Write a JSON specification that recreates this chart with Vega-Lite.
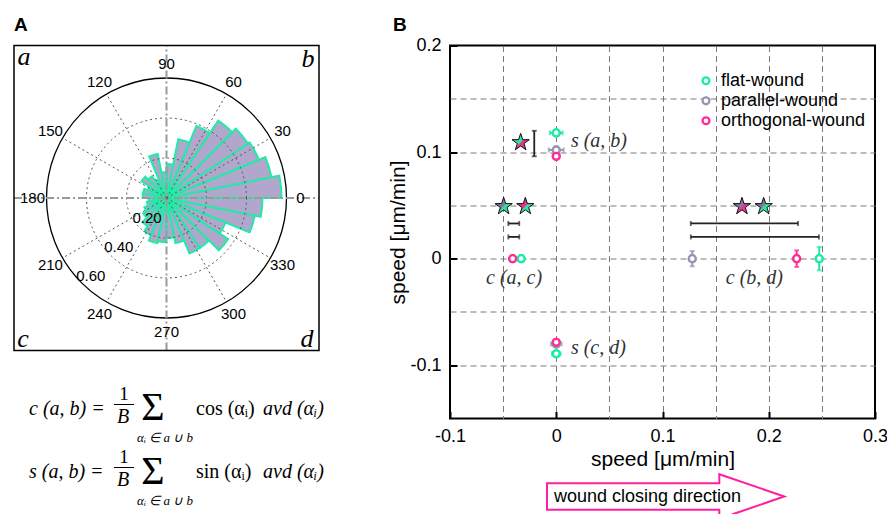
{
  "$schema": "https://vega.github.io/schema/vega-lite/v6.json",
  "background": "white",
  "padding": {"left": 13, "top": 14.5, "right": 0, "bottom": 0},
  "bounds": "flush",
  "spacing": 131,
  "config": {"view": {"stroke": null}, "font": "Liberation Sans"},
  "datasets": {
    "bins": [
      {"a0": 0, "a1": 11.25, "v": 0.575},
      {"a0": 11.25, "a1": 22.5, "v": 0.535},
      {"a0": 22.5, "a1": 33.75, "v": 0.5},
      {"a0": 33.75, "a1": 45, "v": 0.49},
      {"a0": 45, "a1": 56.25, "v": 0.465},
      {"a0": 56.25, "a1": 67.5, "v": 0.39},
      {"a0": 67.5, "a1": 78.75, "v": 0.3},
      {"a0": 78.75, "a1": 90, "v": 0.17},
      {"a0": 90, "a1": 101.25, "v": 0.13},
      {"a0": 101.25, "a1": 112.5, "v": 0.225},
      {"a0": 112.5, "a1": 123.75, "v": 0.1},
      {"a0": 123.75, "a1": 135, "v": 0.13},
      {"a0": 135, "a1": 146.25, "v": 0.15},
      {"a0": 146.25, "a1": 157.5, "v": 0.1},
      {"a0": 157.5, "a1": 168.75, "v": 0.12},
      {"a0": 168.75, "a1": 180, "v": 0.12},
      {"a0": 180, "a1": 191.25, "v": 0.09},
      {"a0": 191.25, "a1": 202.5, "v": 0.1},
      {"a0": 202.5, "a1": 213.75, "v": 0.12},
      {"a0": 213.75, "a1": 225, "v": 0.14},
      {"a0": 225, "a1": 236.25, "v": 0.17},
      {"a0": 236.25, "a1": 247.5, "v": 0.2},
      {"a0": 247.5, "a1": 258.75, "v": 0.23},
      {"a0": 258.75, "a1": 270, "v": 0.22},
      {"a0": 270, "a1": 281.25, "v": 0.2},
      {"a0": 281.25, "a1": 292.5, "v": 0.23},
      {"a0": 292.5, "a1": 303.75, "v": 0.3},
      {"a0": 303.75, "a1": 315, "v": 0.3},
      {"a0": 315, "a1": 326.25, "v": 0.37},
      {"a0": 326.25, "a1": 337.5, "v": 0.32},
      {"a0": 337.5, "a1": 348.75, "v": 0.45},
      {"a0": 348.75, "a1": 360, "v": 0.48}
    ],
    "rings": [{"a0": 0, "a1": 360, "r": 0.2}, {"a0": 0, "a1": 360, "r": 0.4}],
    "outer": [{"a0": 0, "a1": 360, "r": 0.6}],
    "spokes": [
      {"x": 0, "y": 0, "ex": 0.5196, "ey": 0.3}, {"x": 0, "y": 0, "ex": 0.3, "ey": 0.5196},
      {"x": 0, "y": 0, "ex": -0.3, "ey": 0.5196}, {"x": 0, "y": 0, "ex": -0.5196, "ey": 0.3},
      {"x": 0, "y": 0, "ex": -0.5196, "ey": -0.3}, {"x": 0, "y": 0, "ex": -0.3, "ey": -0.5196},
      {"x": 0, "y": 0, "ex": 0.3, "ey": -0.5196}, {"x": 0, "y": 0, "ex": 0.5196, "ey": -0.3}
    ],
    "axl": [
      {"x": -0.7625, "x2": 0.7625, "y": 0, "y2": 0},
      {"x": 0, "x2": 0, "y": -0.7625, "y2": 0.7625}
    ],
    "box": [{"x": -0.7625, "x2": 0.7625, "y": -0.7625, "y2": 0.7625}],
    "angles": [
      {"a": 0, "r": 0.67, "lab": "0"}, {"a": 30, "r": 0.67, "lab": "30"}, {"a": 60, "r": 0.67, "lab": "60"},
      {"a": 90, "r": 0.67, "lab": "90"}, {"a": 120, "r": 0.67, "lab": "120"}, {"a": 150, "r": 0.67, "lab": "150"},
      {"a": 180, "r": 0.67, "lab": "180"}, {"a": 210, "r": 0.67, "lab": "210"}, {"a": 240, "r": 0.67, "lab": "240"},
      {"a": 270, "r": 0.67, "lab": "270"}, {"a": 300, "r": 0.67, "lab": "300"}, {"a": 330, "r": 0.67, "lab": "330"},
      {"a": 226, "r": 0.14, "lab": "0.20"},
      {"a": 226, "r": 0.343, "lab": "0.40"},
      {"a": 226, "r": 0.545, "lab": "0.60"}
    ],
    "corners": [
      {"x": -0.7125, "y": 0.7075, "lab": "a"},
      {"x": 0.7075, "y": 0.6975, "lab": "b"},
      {"x": -0.7175, "y": -0.7025, "lab": "c"},
      {"x": 0.7025, "y": -0.7025, "lab": "d"}
    ],
    "fit": [
      {"x": -0.6875, "y": -1.0525, "t": "c (a, b) ="},
      {"x": -0.6875, "y": -1.3675, "t": "s (a, b) ="},
      {"x": 0.4825, "y": -1.0525, "t": "avd (αᵢ)"},
      {"x": 0.4825, "y": -1.3675, "t": "avd (αᵢ)"}
    ],
    "fup": [
      {"x": 0.1475, "y": -1.0525, "t": "cos (αᵢ)"},
      {"x": 0.1475, "y": -1.3675, "t": "sin (αᵢ)"}
    ],
    "fone": [
      {"x": -0.2125, "y": -0.9775, "t": "1"},
      {"x": -0.2125, "y": -1.2925, "t": "1"}
    ],
    "fB": [
      {"x": -0.2175, "y": -1.0925, "t": "B"},
      {"x": -0.2175, "y": -1.4075, "t": "B"}
    ],
    "fbar": [
      {"x": -0.2625, "x2": -0.1625, "y": -1.0325, "y2": -1.0325},
      {"x": -0.2625, "x2": -0.1625, "y": -1.3475, "y2": -1.3475}
    ],
    "fsig": [
      {"x": -0.0675, "y": -1.0475, "t": "Σ"},
      {"x": -0.0675, "y": -1.3675, "t": "Σ"}
    ],
    "fsub": [
      {"x": -0.0075, "y": -1.1975, "t": "αᵢ ∈ a ∪ b"},
      {"x": -0.0075, "y": -1.5125, "t": "αᵢ ∈ a ∪ b"}
    ],
    "pts": [
      {"x": 0, "y": 0.118, "s": "flat-wound", "xe": 0.006, "g": "h"},
      {"x": 0, "y": 0.102, "s": "parallel-wound", "xe": 0.007, "g": "h"},
      {"x": 0, "y": 0.096, "s": "orthogonal-wound", "xe": 0.002, "g": "h"},
      {"x": 0, "y": -0.08, "s": "parallel-wound", "xe": 0.005, "g": "h"},
      {"x": 0, "y": -0.0893, "s": "flat-wound", "xe": 0.004, "g": "h"},
      {"x": 0, "y": -0.0785, "s": "orthogonal-wound", "xe": 0.002, "g": "h"},
      {"x": -0.033, "y": 0, "s": "flat-wound", "ye": 0.001, "g": "v"},
      {"x": -0.041, "y": 0, "s": "orthogonal-wound", "ye": 0.001, "g": "v"},
      {"x": 0.128, "y": 0, "s": "parallel-wound", "ye": 0.0072, "g": "v"},
      {"x": 0.2263, "y": 0, "s": "orthogonal-wound", "ye": 0.0078, "g": "v"},
      {"x": 0.2475, "y": 0, "s": "flat-wound", "ye": 0.011, "g": "v"}
    ],
    "leg": [
      {"x": 0.14094, "tx": 0.15506, "y": 0.16688, "s": "flat-wound"},
      {"x": 0.14094, "tx": 0.15506, "y": 0.14811, "s": "parallel-wound"},
      {"x": 0.14094, "tx": 0.15506, "y": 0.12935, "s": "orthogonal-wound"}
    ],
    "sigh": [
      {"x": -0.0451, "x2": -0.0348, "y": 0.033},
      {"x": -0.0451, "x2": -0.0348, "y": 0.0204},
      {"x": 0.1266, "x2": 0.2276, "y": 0.033},
      {"x": 0.1266, "x2": 0.2473, "y": 0.0204}
    ],
    "sigv": [
      {"x": -0.0207, "y": 0.096, "y2": 0.12}
    ],
    "stars": [
      {"x": -0.0335, "y": 0.109, "up": "flat-wound", "lo": "orthogonal-wound"},
      {"x": -0.0495, "y": 0.049, "up": "parallel-wound", "lo": "flat-wound"},
      {"x": -0.0291, "y": 0.049, "up": "orthogonal-wound", "lo": "flat-wound"},
      {"x": 0.1748, "y": 0.049, "up": "parallel-wound", "lo": "orthogonal-wound"},
      {"x": 0.1952, "y": 0.049, "up": "parallel-wound", "lo": "flat-wound"}
    ],
    "ann": [
      {"x": 0.0138, "y": 0.11, "t": "s (a, b)"},
      {"x": 0.0138, "y": -0.0838, "t": "s (c, d)"},
      {"x": -0.0661, "y": -0.018, "t": "c (a, c)"},
      {"x": 0.1596, "y": -0.018, "t": "c (b, d)"}
    ],
    "arrow": [
      {"o": 1, "x": 0.16523, "y": -0.24009},
      {"o": 2, "x": 0.21464, "y": -0.2232},
      {"o": 3, "x": 0.15346, "y": -0.2023},
      {"o": 4, "x": 0.15346, "y": -0.2107},
      {"o": 5, "x": -0.00871, "y": -0.2107},
      {"o": 6, "x": -0.00871, "y": -0.2357},
      {"o": 7, "x": 0.15346, "y": -0.2357},
      {"o": 8, "x": 0.15346, "y": -0.24009}
    ]
  },
  "hconcat": [
    {
      "width": 305,
      "height": 456,
      "layer": [
        {
          "data": {"name": "bins"},
          "mark": {"type": "arc", "fill": "#b1a6cc", "stroke": "#22eaa8", "strokeWidth": 2},
          "encoding": {
            "x": {"datum": 0, "type": "quantitative", "scale": {"domain": [-0.7625, 0.7625]}, "axis": null},
            "y": {"datum": 0, "type": "quantitative", "scale": {"domain": [-1.5175, 0.7625]}, "axis": null},
            "theta": {"field": "a0", "type": "quantitative", "scale": {"domain": [90, -270], "range": [0, 6.283185307179586]}, "stack": null},
            "theta2": {"field": "a1"},
            "radius": {"field": "v", "type": "quantitative", "scale": {"type": "linear", "domain": [0, 0.6], "range": [0, 120]}}
          }
        },
        {
          "data": {"name": "rings"},
          "mark": {"type": "arc", "filled": false, "stroke": "#555555", "strokeWidth": 1, "strokeDash": [2, 3]},
          "encoding": {
            "x": {"datum": 0, "type": "quantitative", "scale": {"domain": [-0.7625, 0.7625]}, "axis": null},
            "y": {"datum": 0, "type": "quantitative", "scale": {"domain": [-1.5175, 0.7625]}, "axis": null},
            "theta": {"field": "a0", "type": "quantitative", "scale": {"domain": [90, -270], "range": [0, 6.283185307179586]}, "stack": null},
            "theta2": {"field": "a1"},
            "radius": {"field": "r", "type": "quantitative", "scale": {"type": "linear", "domain": [0, 0.6], "range": [0, 120]}}
          }
        },
        {
          "data": {"name": "outer"},
          "mark": {"type": "arc", "filled": false, "stroke": "black", "strokeWidth": 1.3},
          "encoding": {
            "x": {"datum": 0, "type": "quantitative", "scale": {"domain": [-0.7625, 0.7625]}, "axis": null},
            "y": {"datum": 0, "type": "quantitative", "scale": {"domain": [-1.5175, 0.7625]}, "axis": null},
            "theta": {"field": "a0", "type": "quantitative", "scale": {"domain": [90, -270], "range": [0, 6.283185307179586]}, "stack": null},
            "theta2": {"field": "a1"},
            "radius": {"field": "r", "type": "quantitative", "scale": {"type": "linear", "domain": [0, 0.6], "range": [0, 120]}}
          }
        },
        {
          "data": {"name": "spokes"},
          "mark": {"type": "rule", "stroke": "#555555", "strokeWidth": 1, "strokeDash": [2, 3]},
          "encoding": {
            "x": {"field": "x", "type": "quantitative", "scale": {"domain": [-0.7625, 0.7625]}, "axis": null},
            "y": {"field": "y", "type": "quantitative", "scale": {"domain": [-1.5175, 0.7625]}, "axis": null},
            "x2": {"field": "ex"},
            "y2": {"field": "ey"}
          }
        },
        {
          "data": {"name": "axl"},
          "mark": {"type": "rule", "stroke": "#9a9a9a", "strokeWidth": 2, "strokeDash": [8, 3, 2, 3]},
          "encoding": {
            "x": {"field": "x", "type": "quantitative", "scale": {"domain": [-0.7625, 0.7625]}, "axis": null},
            "y": {"field": "y", "type": "quantitative", "scale": {"domain": [-1.5175, 0.7625]}, "axis": null},
            "x2": {"field": "x2"},
            "y2": {"field": "y2"}
          }
        },
        {
          "data": {"name": "box"},
          "mark": {"type": "rect", "filled": false, "stroke": "black", "strokeWidth": 1.5},
          "encoding": {
            "x": {"field": "x", "type": "quantitative", "scale": {"domain": [-0.7625, 0.7625]}, "axis": null},
            "x2": {"field": "x2"},
            "y": {"field": "y", "type": "quantitative", "scale": {"domain": [-1.5175, 0.7625]}, "axis": null},
            "y2": {"field": "y2"}
          }
        },
        {
          "data": {"name": "angles"},
          "mark": {"type": "text", "font": "Liberation Sans", "fontSize": 15, "align": "center", "baseline": "middle", "color": "black"},
          "encoding": {
            "x": {"datum": 0, "type": "quantitative", "scale": {"domain": [-0.7625, 0.7625]}, "axis": null},
            "y": {"datum": 0, "type": "quantitative", "scale": {"domain": [-1.5175, 0.7625]}, "axis": null},
            "theta": {"field": "a", "type": "quantitative", "scale": {"domain": [90, -270], "range": [0, 6.283185307179586]}, "stack": null},
            "radius": {"field": "r", "type": "quantitative", "scale": {"type": "linear", "domain": [0, 0.6], "range": [0, 120]}},
            "text": {"field": "lab"}
          }
        },
        {
          "data": {"name": "corners"},
          "mark": {"type": "text", "font": "Liberation Serif", "fontStyle": "italic", "fontSize": 26, "align": "center", "baseline": "middle", "color": "black"},
          "encoding": {
            "x": {"field": "x", "type": "quantitative", "scale": {"domain": [-0.7625, 0.7625]}, "axis": null},
            "y": {"field": "y", "type": "quantitative", "scale": {"domain": [-1.5175, 0.7625]}, "axis": null},
            "text": {"field": "lab"}
          }
        },
        {
          "data": {"values": [{"x": -0.7625, "y": 0.865, "t": "A"}]},
          "mark": {"type": "text", "font": "Liberation Sans", "fontWeight": "bold", "fontSize": 19, "align": "left", "baseline": "middle", "color": "black", "clip": false},
          "encoding": {
            "x": {"field": "x", "type": "quantitative", "scale": {"domain": [-0.7625, 0.7625]}, "axis": null},
            "y": {"field": "y", "type": "quantitative", "scale": {"domain": [-1.5175, 0.7625]}, "axis": null},
            "text": {"field": "t"}
          }
        },
        {
          "data": {"name": "fit"},
          "mark": {"type": "text", "font": "Liberation Serif", "fontStyle": "italic", "fontSize": 20, "align": "left", "baseline": "middle", "color": "black", "clip": false},
          "encoding": {
            "x": {"field": "x", "type": "quantitative", "scale": {"domain": [-0.7625, 0.7625]}, "axis": null},
            "y": {"field": "y", "type": "quantitative", "scale": {"domain": [-1.5175, 0.7625]}, "axis": null},
            "text": {"field": "t"}
          }
        },
        {
          "data": {"name": "fup"},
          "mark": {"type": "text", "font": "Liberation Serif", "fontSize": 20, "align": "left", "baseline": "middle", "color": "black"},
          "encoding": {
            "x": {"field": "x", "type": "quantitative", "scale": {"domain": [-0.7625, 0.7625]}, "axis": null},
            "y": {"field": "y", "type": "quantitative", "scale": {"domain": [-1.5175, 0.7625]}, "axis": null},
            "text": {"field": "t"}
          }
        },
        {
          "data": {"name": "fone"},
          "mark": {"type": "text", "font": "Liberation Serif", "fontSize": 19, "align": "center", "baseline": "middle", "color": "black"},
          "encoding": {
            "x": {"field": "x", "type": "quantitative", "scale": {"domain": [-0.7625, 0.7625]}, "axis": null},
            "y": {"field": "y", "type": "quantitative", "scale": {"domain": [-1.5175, 0.7625]}, "axis": null},
            "text": {"field": "t"}
          }
        },
        {
          "data": {"name": "fB"},
          "mark": {"type": "text", "font": "Liberation Serif", "fontStyle": "italic", "fontSize": 20, "align": "center", "baseline": "middle", "color": "black"},
          "encoding": {
            "x": {"field": "x", "type": "quantitative", "scale": {"domain": [-0.7625, 0.7625]}, "axis": null},
            "y": {"field": "y", "type": "quantitative", "scale": {"domain": [-1.5175, 0.7625]}, "axis": null},
            "text": {"field": "t"}
          }
        },
        {
          "data": {"name": "fbar"},
          "mark": {"type": "rule", "stroke": "black", "strokeWidth": 1},
          "encoding": {
            "x": {"field": "x", "type": "quantitative", "scale": {"domain": [-0.7625, 0.7625]}, "axis": null},
            "y": {"field": "y", "type": "quantitative", "scale": {"domain": [-1.5175, 0.7625]}, "axis": null},
            "x2": {"field": "x2"},
            "y2": {"field": "y2"}
          }
        },
        {
          "data": {"name": "fsig"},
          "mark": {"type": "text", "font": "Liberation Serif", "fontSize": 40, "align": "center", "baseline": "middle", "color": "black"},
          "encoding": {
            "x": {"field": "x", "type": "quantitative", "scale": {"domain": [-0.7625, 0.7625]}, "axis": null},
            "y": {"field": "y", "type": "quantitative", "scale": {"domain": [-1.5175, 0.7625]}, "axis": null},
            "text": {"field": "t"}
          }
        },
        {
          "data": {"name": "fsub"},
          "mark": {"type": "text", "font": "Liberation Serif", "fontStyle": "italic", "fontSize": 13, "align": "center", "baseline": "middle", "color": "black", "clip": false},
          "encoding": {
            "x": {"field": "x", "type": "quantitative", "scale": {"domain": [-0.7625, 0.7625]}, "axis": null},
            "y": {"field": "y", "type": "quantitative", "scale": {"domain": [-1.5175, 0.7625]}, "axis": null},
            "text": {"field": "t"}
          }
        }
      ]
    },
    {
      "width": 425,
      "height": 373,
      "view": {"stroke": "black", "strokeWidth": 2},
      "layer": [
        {
          "data": {"name": "pts"},
          "mark": {"type": "point", "filled": false, "size": 47, "strokeWidth": 2.3, "opacity": 1, "fill": "white"},
          "encoding": {
            "x": {
              "field": "x", "type": "quantitative", "title": "speed [μm/min]",
              "scale": {"domain": [-0.1, 0.3], "nice": false, "zero": false},
              "axis": {
                "values": [-0.1, -0.05, 0, 0.05, 0.1, 0.15, 0.2, 0.25, 0.3],
                "title": "speed [μm/min]",
                "domain": false,
                "grid": true, "gridColor": "#7a7a7a", "gridDash": [6, 4], "gridWidth": 1,
                "gridOpacity": {"condition": {"test": "datum.value < -0.099 || datum.value > 0.299", "value": 0}, "value": 1},
                "tickSize": -7, "tickWidth": 2, "tickColor": "black",
                "tickOpacity": {"condition": {"test": "abs(datum.value*10 - round(datum.value*10)) < 0.01", "value": 1}, "value": 0},
                "labelExpr": "abs(datum.value*10 - round(datum.value*10)) > 0.01 ? '' : (datum.value < -0.001 ? '-' + format(-datum.value, '.1f') : (abs(datum.value) < 0.001 ? '0' : format(datum.value, '.1f')))",
                "labelFont": "Liberation Sans", "labelFontSize": 18, "labelColor": "black",
                "labelPadding": 16, "labelFlush": false, "labelOverlap": false,
                "titleFont": "Liberation Sans", "titleFontSize": 21, "titleFontWeight": "normal", "titleColor": "black", "titlePadding": 3
              }
            },
            "y": {
              "field": "y", "type": "quantitative", "title": "speed [μm/min]",
              "scale": {"domain": [-0.15, 0.2], "nice": false, "zero": false},
              "axis": {
                "values": [-0.1, -0.05, 0, 0.05, 0.1, 0.15, 0.2],
                "title": "speed [μm/min]",
                "domain": false,
                "grid": true, "gridColor": "#7a7a7a", "gridDash": [6, 4], "gridWidth": 1,
                "gridOpacity": {"condition": {"test": "datum.value > 0.199", "value": 0}, "value": 1},
                "tickSize": -7, "tickWidth": 2, "tickColor": "black",
                "tickOpacity": {"condition": {"test": "abs(datum.value*10 - round(datum.value*10)) < 0.01", "value": 1}, "value": 0},
                "labelExpr": "abs(datum.value*10 - round(datum.value*10)) > 0.01 ? '' : (datum.value < -0.001 ? '-' + format(-datum.value, '.1f') : (abs(datum.value) < 0.001 ? '0' : format(datum.value, '.1f')))",
                "labelFont": "Liberation Sans", "labelFontSize": 18, "labelColor": "black",
                "labelPadding": 16, "labelFlush": false, "labelOverlap": false,
                "titleFont": "Liberation Sans", "titleFontSize": 21, "titleFontWeight": "normal", "titleColor": "black", "titlePadding": 1
              }
            },
            "color": {"field": "s", "type": "nominal", "scale": {"domain": ["flat-wound", "parallel-wound", "orthogonal-wound"], "range": ["#19eda0", "#9797b5", "#ff2d96"]}, "legend": null}
          }
        },
        {
          "data": {"name": "pts"},
          "transform": [{"filter": "datum.g == 'h'"}],
          "mark": {"type": "errorbar", "ticks": true, "thickness": 2},
          "encoding": {
            "x": {"field": "x", "type": "quantitative", "title": "speed [μm/min]", "scale": {"domain": [-0.1, 0.3], "nice": false, "zero": false}},
            "xError": {"field": "xe"},
            "y": {"field": "y", "type": "quantitative", "title": "speed [μm/min]", "scale": {"domain": [-0.15, 0.2], "nice": false, "zero": false}},
            "color": {"field": "s", "type": "nominal", "scale": {"domain": ["flat-wound", "parallel-wound", "orthogonal-wound"], "range": ["#19eda0", "#9797b5", "#ff2d96"]}, "legend": null}
          }
        },
        {
          "data": {"name": "pts"},
          "transform": [{"filter": "datum.g == 'v'"}],
          "mark": {"type": "errorbar", "ticks": true, "thickness": 2},
          "encoding": {
            "x": {"field": "x", "type": "quantitative", "title": "speed [μm/min]", "scale": {"domain": [-0.1, 0.3], "nice": false, "zero": false}},
            "y": {"field": "y", "type": "quantitative", "title": "speed [μm/min]", "scale": {"domain": [-0.15, 0.2], "nice": false, "zero": false}},
            "yError": {"field": "ye"},
            "color": {"field": "s", "type": "nominal", "scale": {"domain": ["flat-wound", "parallel-wound", "orthogonal-wound"], "range": ["#19eda0", "#9797b5", "#ff2d96"]}, "legend": null}
          }
        },
        {
          "data": {"name": "sigh"},
          "mark": {"type": "errorbar", "ticks": true, "thickness": 1.8, "color": "#222222"},
          "encoding": {
            "x": {"field": "x", "type": "quantitative", "title": "speed [μm/min]", "scale": {"domain": [-0.1, 0.3], "nice": false, "zero": false}},
            "x2": {"field": "x2"},
            "y": {"field": "y", "type": "quantitative", "title": "speed [μm/min]", "scale": {"domain": [-0.15, 0.2], "nice": false, "zero": false}}
          }
        },
        {
          "data": {"name": "sigv"},
          "mark": {"type": "errorbar", "ticks": true, "thickness": 1.8, "color": "#222222"},
          "encoding": {
            "x": {"field": "x", "type": "quantitative", "title": "speed [μm/min]", "scale": {"domain": [-0.1, 0.3], "nice": false, "zero": false}},
            "y": {"field": "y", "type": "quantitative", "title": "speed [μm/min]", "scale": {"domain": [-0.15, 0.2], "nice": false, "zero": false}},
            "y2": {"field": "y2"}
          }
        },
        {
          "data": {"name": "pts"},
          "mark": {"type": "point", "filled": false, "size": 47, "strokeWidth": 2.3, "opacity": 1, "fill": "white"},
          "encoding": {
            "x": {"field": "x", "type": "quantitative", "title": "speed [μm/min]", "scale": {"domain": [-0.1, 0.3], "nice": false, "zero": false}},
            "y": {"field": "y", "type": "quantitative", "title": "speed [μm/min]", "scale": {"domain": [-0.15, 0.2], "nice": false, "zero": false}},
            "color": {"field": "s", "type": "nominal", "scale": {"domain": ["flat-wound", "parallel-wound", "orthogonal-wound"], "range": ["#19eda0", "#9797b5", "#ff2d96"]}, "legend": null}
          }
        },
        {
          "data": {"name": "leg"},
          "mark": {"type": "point", "filled": false, "size": 47, "strokeWidth": 2.3, "opacity": 1, "fill": "white"},
          "encoding": {
            "x": {"field": "x", "type": "quantitative", "title": "speed [μm/min]", "scale": {"domain": [-0.1, 0.3], "nice": false, "zero": false}},
            "y": {"field": "y", "type": "quantitative", "title": "speed [μm/min]", "scale": {"domain": [-0.15, 0.2], "nice": false, "zero": false}},
            "color": {"field": "s", "type": "nominal", "scale": {"domain": ["flat-wound", "parallel-wound", "orthogonal-wound"], "range": ["#19eda0", "#9797b5", "#ff2d96"]}, "legend": null}
          }
        },
        {
          "data": {"name": "leg"},
          "mark": {"type": "text", "font": "Liberation Sans", "fontSize": 18, "align": "left", "baseline": "middle", "color": "black"},
          "encoding": {
            "x": {"field": "tx", "type": "quantitative", "title": "speed [μm/min]", "scale": {"domain": [-0.1, 0.3], "nice": false, "zero": false}},
            "y": {"field": "y", "type": "quantitative", "title": "speed [μm/min]", "scale": {"domain": [-0.15, 0.2], "nice": false, "zero": false}},
            "text": {"field": "s"}
          }
        },
        {
          "data": {"name": "stars"},
          "mark": {"type": "point", "shape": "M0,-1L0.2245,-0.309L0.951,-0.309L0.363,0.118L0.588,0.809L0,0.382L-0.588,0.809L-0.363,0.118L-0.951,-0.309L-0.2245,-0.309Z", "filled": true, "size": 330, "strokeWidth": 0, "opacity": 1},
          "encoding": {
            "x": {"field": "x", "type": "quantitative", "title": "speed [μm/min]", "scale": {"domain": [-0.1, 0.3], "nice": false, "zero": false}},
            "y": {"field": "y", "type": "quantitative", "title": "speed [μm/min]", "scale": {"domain": [-0.15, 0.2], "nice": false, "zero": false}},
            "fill": {"field": "lo", "type": "nominal", "scale": {"domain": ["flat-wound", "parallel-wound", "orthogonal-wound"], "range": ["#35e3a2", "#7e7c99", "#e8358d"]}, "legend": null}
          }
        },
        {
          "data": {"name": "stars"},
          "mark": {"type": "point", "shape": "M0,-1L0.2245,-0.309L0.309,-0.309L-0.4813,0.4813L-0.363,0.118L-0.951,-0.309L-0.2245,-0.309Z", "filled": true, "size": 330, "strokeWidth": 0, "opacity": 1},
          "encoding": {
            "x": {"field": "x", "type": "quantitative", "title": "speed [μm/min]", "scale": {"domain": [-0.1, 0.3], "nice": false, "zero": false}},
            "y": {"field": "y", "type": "quantitative", "title": "speed [μm/min]", "scale": {"domain": [-0.15, 0.2], "nice": false, "zero": false}},
            "fill": {"field": "up", "type": "nominal", "scale": {"domain": ["flat-wound", "parallel-wound", "orthogonal-wound"], "range": ["#35e3a2", "#7e7c99", "#e8358d"]}, "legend": null}
          }
        },
        {
          "data": {"name": "stars"},
          "mark": {"type": "point", "shape": "M0,-1L0.2245,-0.309L0.951,-0.309L0.363,0.118L0.588,0.809L0,0.382L-0.588,0.809L-0.363,0.118L-0.951,-0.309L-0.2245,-0.309Z", "filled": false, "size": 330, "stroke": "#111111", "strokeWidth": 1, "opacity": 1},
          "encoding": {
            "x": {"field": "x", "type": "quantitative", "title": "speed [μm/min]", "scale": {"domain": [-0.1, 0.3], "nice": false, "zero": false}},
            "y": {"field": "y", "type": "quantitative", "title": "speed [μm/min]", "scale": {"domain": [-0.15, 0.2], "nice": false, "zero": false}}
          }
        },
        {
          "data": {"name": "ann"},
          "mark": {"type": "text", "font": "Liberation Serif", "fontStyle": "italic", "fontSize": 20, "align": "left", "baseline": "middle", "color": "#333333"},
          "encoding": {
            "x": {"field": "x", "type": "quantitative", "title": "speed [μm/min]", "scale": {"domain": [-0.1, 0.3], "nice": false, "zero": false}},
            "y": {"field": "y", "type": "quantitative", "title": "speed [μm/min]", "scale": {"domain": [-0.15, 0.2], "nice": false, "zero": false}},
            "text": {"field": "t"}
          }
        },
        {
          "data": {"values": [{"x": -0.15365, "y": 0.21924, "t": "B"}]},
          "mark": {"type": "text", "font": "Liberation Sans", "fontWeight": "bold", "fontSize": 19, "align": "left", "baseline": "middle", "color": "black", "clip": false},
          "encoding": {
            "x": {"field": "x", "type": "quantitative", "title": "speed [μm/min]", "scale": {"domain": [-0.1, 0.3], "nice": false, "zero": false}},
            "y": {"field": "y", "type": "quantitative", "title": "speed [μm/min]", "scale": {"domain": [-0.15, 0.2], "nice": false, "zero": false}},
            "text": {"field": "t"}
          }
        },
        {
          "data": {"name": "arrow"},
          "mark": {"type": "line", "stroke": "#ff1fa0", "strokeWidth": 2, "clip": false, "strokeJoin": "miter"},
          "encoding": {
            "x": {"field": "x", "type": "quantitative", "title": "speed [μm/min]", "scale": {"domain": [-0.1, 0.3], "nice": false, "zero": false}},
            "y": {"field": "y", "type": "quantitative", "title": "speed [μm/min]", "scale": {"domain": [-0.15, 0.2], "nice": false, "zero": false}},
            "order": {"field": "o", "type": "quantitative"}
          }
        },
        {
          "data": {"values": [{"x": -0.00212, "y": -0.2232, "t": "wound closing direction"}]},
          "mark": {"type": "text", "font": "Liberation Sans", "fontSize": 18, "align": "left", "baseline": "middle", "color": "black", "clip": false},
          "encoding": {
            "x": {"field": "x", "type": "quantitative", "title": "speed [μm/min]", "scale": {"domain": [-0.1, 0.3], "nice": false, "zero": false}},
            "y": {"field": "y", "type": "quantitative", "title": "speed [μm/min]", "scale": {"domain": [-0.15, 0.2], "nice": false, "zero": false}},
            "text": {"field": "t"}
          }
        }
      ]
    }
  ]
}
